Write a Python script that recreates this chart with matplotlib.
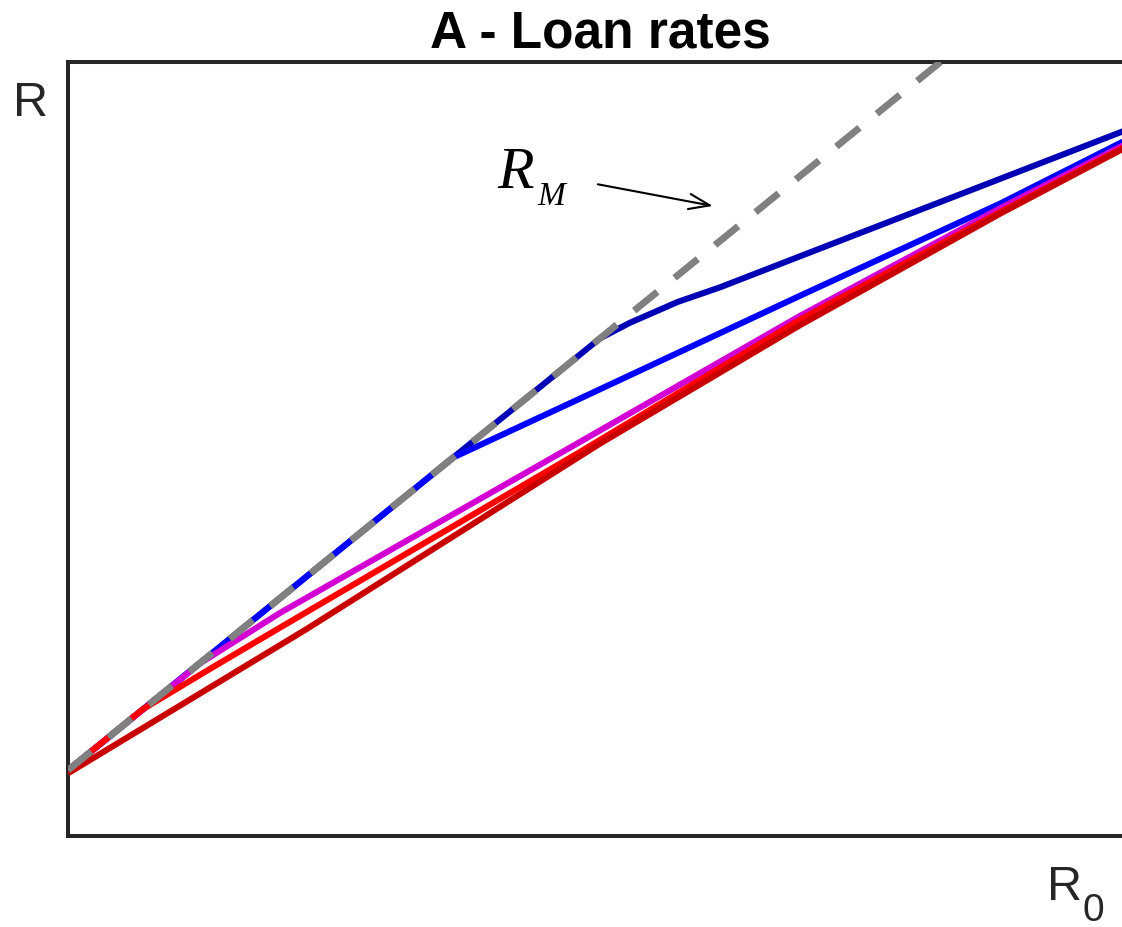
import matplotlib
matplotlib.use("Agg")
import matplotlib.pyplot as plt

# ---- data (R0 on x, R on y, arbitrary units) ----
rm_x = [0.0, 0.82]
rm_y = [0.085, 1.0]

darkblue_x = [0.0, 0.5, 0.528, 0.573, 0.613, 0.688, 0.829, 1.0]
darkblue_y = [0.085, 0.643, 0.663, 0.690, 0.709, 0.749, 0.824, 0.915]

blue_x = [0.0, 0.362, 0.481, 0.688, 0.876, 1.0]
blue_y = [0.085, 0.489, 0.565, 0.698, 0.817, 0.903]

magenta_x = [0.0, 0.124, 0.199, 0.481, 0.688, 0.876, 1.0]
magenta_y = [0.085, 0.223, 0.288, 0.509, 0.672, 0.811, 0.898]

red_x = [0.0, 0.0705, 0.136, 0.199, 0.481, 0.688, 0.876, 1.0]
red_y = [0.085, 0.164, 0.218, 0.269, 0.496, 0.667, 0.806, 0.895]

darkred_x = [0.0, 0.225, 0.5, 0.688, 0.876, 1.0]
darkred_y = [0.081, 0.268, 0.507, 0.660, 0.804, 0.894]

title = "A - Loan rates"

W, H = 1122, 927
fig = plt.figure(figsize=(W / 100, H / 100), dpi=100)
fig.patch.set_facecolor("white")

left_px, right_px, top_px, bot_px = 68, 1132, 62, 836
ax = fig.add_axes([left_px / W, 1 - bot_px / H, (right_px - left_px) / W, (bot_px - top_px) / H])
ax.set_xlim(0, 1)
ax.set_ylim(0, 1)
ax.set_xticks([])
ax.set_yticks([])
for s in ax.spines.values():
    s.set_linewidth(2.9)
    s.set_color("#262626")

lw = 4.4
ax.plot(darkblue_x, darkblue_y, color="#0000b4", lw=lw, solid_capstyle="butt", zorder=2)
ax.plot(blue_x, blue_y, color="#0000ff", lw=lw, solid_capstyle="butt", zorder=3)
ax.plot(magenta_x, magenta_y, color="#d200d2", lw=lw, solid_capstyle="butt", zorder=4)
ax.plot(red_x, red_y, color="#ff0000", lw=lw, solid_capstyle="butt", zorder=5)
ax.plot(darkred_x, darkred_y, color="#c80000", lw=lw, solid_capstyle="butt", zorder=6)
ax.plot(rm_x, rm_y, color="#808080", lw=5.0, dashes=(4.3, 3.2), dash_capstyle="butt", zorder=7)

# R_M annotation with arrow
ax.annotate("", xy=(0.606, 0.814), xytext=(0.498, 0.842),
            arrowprops=dict(arrowstyle="->,head_length=0.6,head_width=0.22",
                            color="black", lw=1.5, shrinkA=0, shrinkB=0,
                            mutation_scale=25), zorder=8)

serif = ["Liberation Serif", "DejaVu Serif"]
sans = ["Liberation Sans", "DejaVu Sans"]
fig.text(497 / W, 1 - 188 / H, "R", fontsize=43, style="italic", family=serif,
         ha="left", va="baseline", color="black")
fig.text(537 / W, 1 - 205 / H, "M", fontsize=24, style="italic", family=serif,
         ha="left", va="baseline", color="black")

# axis labels
fig.text(13 / W, 1 - 116 / H, "R", fontsize=35, family=sans, ha="left", va="baseline", color="#262626")
fig.text(1047 / W, 1 - 900 / H, "R", fontsize=35, family=sans, ha="left", va="baseline", color="#262626")
fig.text(1082 / W, 1 - 921 / H, "0", fontsize=28, family=sans, ha="left", va="baseline", color="#262626")

# title
fig.text(600 / W, 1 - 47 / H, title, fontsize=37, fontweight="bold", family=sans,
         ha="center", va="baseline", color="black")

fig.savefig("out.png", dpi=100, facecolor="white")
